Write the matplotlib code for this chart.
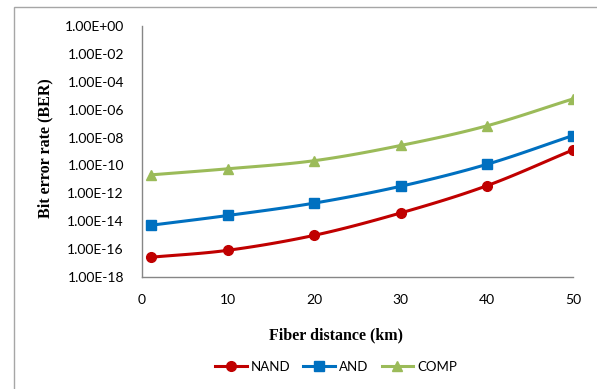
import numpy as np
import matplotlib
matplotlib.use("Agg")
import matplotlib.pyplot as plt
from matplotlib.patches import Rectangle

distance = [1, 10, 20, 30, 40, 50]
nand = [2.6e-17, 8.3e-17, 9.8e-16, 3.9e-14, 3.5e-12, 1.3e-9]
and_ = [5.1e-15, 2.6e-14, 2.0e-13, 3.2e-12, 1.2e-10, 1.4e-8]
comp = [2.1e-11, 5.8e-11, 2.2e-10, 2.7e-9, 6.9e-8, 5.9e-6]
series_names = ["NAND", "AND", "COMP"]
x_ticks = [0, 10, 20, 30, 40, 50]
y_ticks = [1e0, 1e-2, 1e-4, 1e-6, 1e-8, 1e-10, 1e-12, 1e-14, 1e-16, 1e-18]
y_tick_labels = ["1.00E+00", "1.00E-02", "1.00E-04", "1.00E-06", "1.00E-08",
                 "1.00E-10", "1.00E-12", "1.00E-14", "1.00E-16", "1.00E-18"]

colors = ["#C00000", "#0070C0", "#9BBB59"]
markers = ["o", "s", "^"]


def smooth(xs, ys, n=20):
    # Catmull-Rom smoothing in (x, log10 y) space, like Excel's smoothed lines
    x = np.asarray(xs, float)
    y = np.log10(np.asarray(ys, float))
    px = np.concatenate([[2 * x[0] - x[1]], x, [2 * x[-1] - x[-2]]])
    py = np.concatenate([[2 * y[0] - y[1]], y, [2 * y[-1] - y[-2]]])
    ox, oy = [], []
    for i in range(1, len(px) - 2):
        t = np.linspace(0, 1, n, endpoint=False)
        for arr, out in ((px, ox), (py, oy)):
            p0, p1, p2, p3 = arr[i - 1], arr[i], arr[i + 1], arr[i + 2]
            out.extend(0.5 * ((2 * p1) + (-p0 + p2) * t +
                              (2 * p0 - 5 * p1 + 4 * p2 - p3) * t ** 2 +
                              (-p0 + 3 * p1 - 3 * p2 + p3) * t ** 3))
    ox.append(x[-1]); oy.append(y[-1])
    return np.array(ox), 10 ** np.array(oy)


fig = plt.figure(figsize=(5.97, 3.89), dpi=100)
fig.patches.append(Rectangle((14 / 597, -0.1), 1.2, 1 - 7 / 389 + 0.1,
                             transform=fig.transFigure, fill=False,
                             edgecolor="#A6A6A6", linewidth=1.0))
ax = fig.add_axes([142 / 597, 1 - 277 / 389, (573 - 142) / 597, (277 - 26) / 389])

for ys, name, c, m in zip([nand, and_, comp], series_names, colors, markers):
    sx, sy = smooth(distance, ys)
    ax.plot(sx, sy, color=c, linewidth=2.2, solid_capstyle="round")
    ax.plot(distance, ys, linestyle="none", marker=m, color=c, markersize=7)
    ax.plot([], [], color=c, linewidth=2.2, marker=m, markersize=7, label=name)

ax.set_yscale("log")
ax.set_ylim(1e-18, 1e0)
ax.set_xlim(0, 50)
ax.set_xticks(x_ticks)
ax.set_xticklabels([str(v) for v in x_ticks])
ax.set_yticks(y_ticks)
ax.set_yticklabels(y_tick_labels)
ax.yaxis.set_minor_locator(matplotlib.ticker.NullLocator())
ax.tick_params(axis="both", length=0, labelsize=10, colors="#000000")
ax.tick_params(axis="x", pad=12)
ax.tick_params(axis="y", pad=13)
for lab in ax.get_xticklabels() + ax.get_yticklabels():
    lab.set_fontfamily("Lato")
for s in ["top", "right"]:
    ax.spines[s].set_visible(False)
for s in ["left", "bottom"]:
    ax.spines[s].set_color("#868686")
    ax.spines[s].set_linewidth(1.0)

fig.text(45 / 597, 1 - 148 / 389, "Bit error rate (BER)", rotation=90,
         ha="center", va="center", fontfamily="Liberation Serif",
         fontweight="bold", fontsize=11.5)
fig.text(336 / 597, 1 - 335 / 389, "Fiber distance (km)", ha="center",
         va="center", fontfamily="Liberation Serif", fontweight="bold",
         fontsize=11.5)

leg = fig.legend(loc="center", bbox_to_anchor=(336 / 597, 1 - 367 / 389),
                 ncol=3, frameon=False, prop={"family": "Lato", "size": 9.5},
                 handlelength=2.4, columnspacing=1.0, handletextpad=0.3)

fig.savefig("out.png", dpi=100)
